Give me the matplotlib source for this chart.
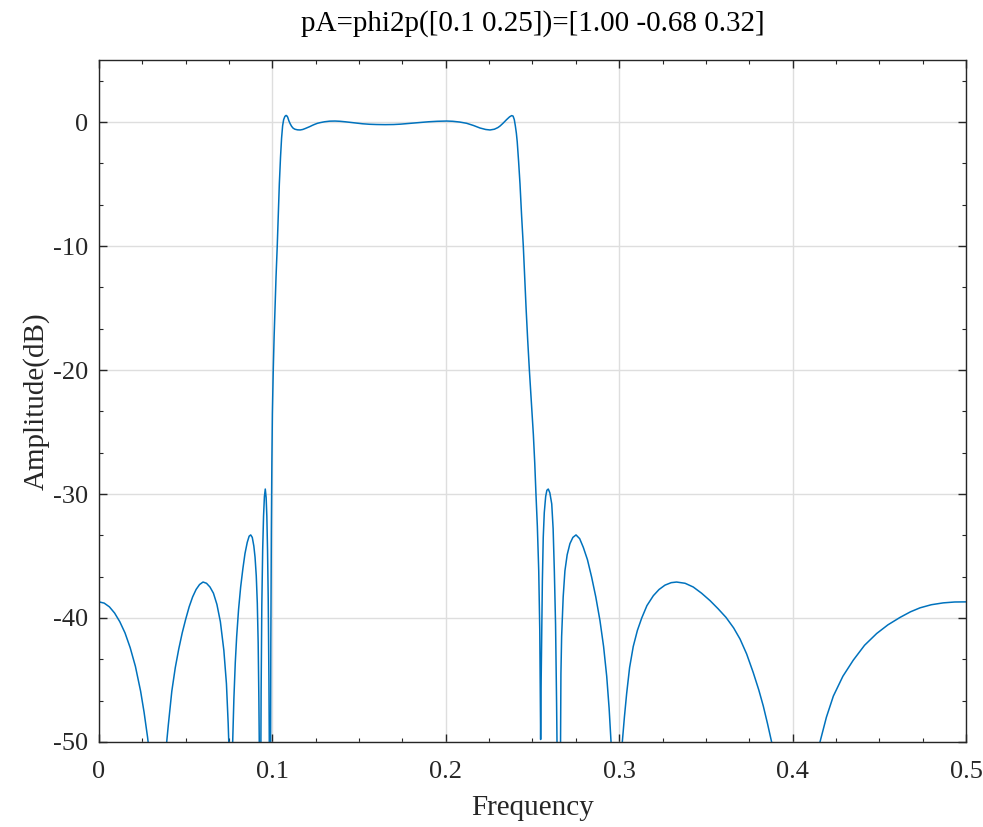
import numpy as np
import matplotlib
matplotlib.use("Agg")
import matplotlib.pyplot as plt
from matplotlib.ticker import MultipleLocator, FixedLocator

# Magnitude response of the bandpass design, sampled along the curve
# (frequency normalised to the sampling rate, amplitude in dB).
# Values below -50 dB mark the notches and fall outside the view.

# lower stopband: four lobes separated by notches
stop_lo_freq = [0.000, 0.003, 0.006, 0.009, 0.012, 0.015, 0.018, 0.021,
                0.024, 0.026, 0.028, 0.029, 0.034,
                0.0385, 0.040, 0.042, 0.044, 0.046, 0.048, 0.050, 0.052,
                0.054, 0.056, 0.058, 0.060, 0.062, 0.064, 0.066, 0.068,
                0.070, 0.072, 0.0735, 0.0745, 0.0752, 0.0757,
                0.0765, 0.0770, 0.0778, 0.0786, 0.0794, 0.0805, 0.0817, 0.0830,
                0.0842, 0.0855, 0.0866, 0.0875, 0.0884, 0.0893, 0.0900, 0.0907,
                0.0913, 0.0918, 0.0922, 0.0925, 0.0929,
                0.0932, 0.0935, 0.0939, 0.0944, 0.0949, 0.0954, 0.0959, 0.0964,
                0.0968, 0.0972, 0.0976, 0.0980, 0.0983, 0.0986]
stop_lo_db = [-38.7, -38.8, -39.1, -39.6, -40.3, -41.2, -42.4, -43.9,
              -45.9, -47.6, -49.6, -50.8, -75.0,
              -50.8, -48.6, -45.9, -44.0, -42.5, -41.2, -40.1, -39.1,
              -38.3, -37.7, -37.3, -37.1, -37.2, -37.5, -38.0, -38.9,
              -40.3, -42.6, -45.3, -48.5, -51.5, -70.0,
              -55.0, -50.5, -46.5, -43.6, -41.5, -39.3, -37.5, -36.0,
              -34.8, -33.9, -33.4, -33.3, -33.5, -34.2, -35.1, -36.6,
              -38.8, -42.0, -46.5, -51.0, -65.0,
              -55.0, -46.0, -39.0, -34.5, -31.8, -30.2, -29.6, -30.3,
              -31.8, -34.5, -38.5, -45.0, -52.0, -65.0]

# transition bands and passband
pass_freq = [0.0989, 0.0991, 0.0994, 0.0997, 0.1000, 0.1005, 0.1010, 0.1015,
             0.1021, 0.1028, 0.1034, 0.1040, 0.1047, 0.1053, 0.1059, 0.1065,
             0.1072, 0.1078, 0.1082, 0.1088, 0.1095, 0.1103, 0.1111, 0.1120,
             0.1130, 0.1145, 0.1160, 0.1175, 0.1190, 0.1205, 0.1217, 0.1230,
             0.1245, 0.1260, 0.1275, 0.1300, 0.1330, 0.1361, 0.1390, 0.1420,
             0.1450, 0.1486, 0.1520, 0.1560, 0.1600, 0.1650, 0.1700, 0.1740,
             0.1774, 0.1810, 0.1851, 0.1900, 0.1950, 0.2005, 0.2040, 0.2080,
             0.2120, 0.2160, 0.2197, 0.2230, 0.2255, 0.2280, 0.2300, 0.2313,
             0.2330, 0.2351, 0.2368, 0.2380, 0.2388, 0.2395, 0.2401, 0.2407,
             0.2412, 0.2420, 0.2428, 0.2437, 0.2447, 0.2455, 0.2463, 0.2472,
             0.2482, 0.2494, 0.2505, 0.2513, 0.2520, 0.2528, 0.2536, 0.2542,
             0.2547]
pass_db = [-55.0, -42.0, -33.0, -27.5, -23.5, -20.0, -17.3, -15.0,
           -12.5, -10.0, -7.5, -5.0, -2.8, -1.3, -0.3, 0.2,
           0.45, 0.53, 0.52, 0.4, 0.1, -0.15, -0.35, -0.5,
           -0.58, -0.63, -0.64, -0.6, -0.52, -0.43, -0.36, -0.27,
           -0.18, -0.1, -0.05, 0.02, 0.07, 0.08, 0.06, 0.02,
           -0.03, -0.09, -0.14, -0.18, -0.2, -0.21, -0.2, -0.17,
           -0.13, -0.09, -0.04, 0.02, 0.06, 0.08, 0.06, 0.0,
           -0.1, -0.28, -0.48, -0.6, -0.64, -0.58, -0.45, -0.32,
           -0.1, 0.2, 0.42, 0.52, 0.48, 0.2, -0.3, -0.9,
           -1.6, -3.2, -5.0, -7.5, -10.0, -12.5, -15.0, -17.5,
           -20.0, -22.7, -25.2, -27.5, -30.0, -32.6, -36.2, -41.0,
           -49.8]

# upper stopband: four lobes separated by notches
stop_hi_freq = [0.2550, 0.2553, 0.2557, 0.2562, 0.2568, 0.2576, 0.2583, 0.2591,
                0.2600, 0.2611, 0.2619, 0.2626, 0.2633, 0.2639, 0.2645, 0.2653,
                0.2661, 0.2664, 0.2668, 0.2677, 0.2687, 0.2700, 0.2716, 0.2733,
                0.2751, 0.2772, 0.2793, 0.2817, 0.2841, 0.2865, 0.2889, 0.2910,
                0.2928, 0.2942, 0.2955, 0.2985,
                0.3015, 0.3030, 0.3043, 0.3060, 0.3081, 0.3105, 0.3130, 0.3160,
                0.3197, 0.3230, 0.3264, 0.3300, 0.3331, 0.3380, 0.3427, 0.3475,
                0.3524, 0.3570, 0.3616, 0.3660, 0.3697, 0.3735, 0.3773, 0.3805,
                0.3831, 0.3855, 0.3879, 0.3895, 0.4020,
                0.4140, 0.4158, 0.4195, 0.4235, 0.4290, 0.4350, 0.4415, 0.4485,
                0.4550, 0.4620, 0.4680, 0.4735, 0.4800, 0.4869, 0.4935, 0.5000]
stop_hi_db = [-45.0, -41.5, -37.0, -33.5, -31.5, -30.2, -29.7, -29.6,
              -29.9, -30.8, -32.8, -36.2, -40.5, -46.9, -55.0, -65.0,
              -52.0, -44.5, -41.5, -38.3, -36.2, -34.9, -34.0, -33.5,
              -33.3, -33.6, -34.3, -35.3, -36.7, -38.3, -40.2, -42.3,
              -44.7, -47.3, -50.5, -70.0,
              -50.5, -48.0, -46.1, -44.0, -42.3, -41.0, -40.0, -39.0,
              -38.2, -37.7, -37.35, -37.15, -37.1, -37.2, -37.5, -38.0,
              -38.6, -39.25, -39.95, -40.8, -41.7, -42.9, -44.4, -45.8,
              -47.1, -48.5, -50.0, -51.0, -75.0,
              -51.0, -50.0, -48.0, -46.3, -44.7, -43.4, -42.2, -41.25,
              -40.55, -39.95, -39.5, -39.18, -38.93, -38.78, -38.71, -38.7]

x_ticks = [0, 0.1, 0.2, 0.3, 0.4, 0.5]
x_tick_labels = ["0", "0.1", "0.2", "0.3", "0.4", "0.5"]
y_ticks = [-50, -40, -30, -20, -10, 0]
y_tick_labels = ["-50", "-40", "-30", "-20", "-10", "0"]

title_text = "pA=phi2p([0.1 0.25])=[1.00 -0.68 0.32]"

freq = np.array(stop_lo_freq + pass_freq + stop_hi_freq)
amp_db = np.array(stop_lo_db + pass_db + stop_hi_db)

plt.rcParams["font.family"] = ["Liberation Serif", "DejaVu Serif"]

fig = plt.figure(figsize=(9.83, 8.27), dpi=100)
ax = fig.add_axes([0.1007, 0.1028, 0.8820, 0.8246])

ax.plot(freq, amp_db, color="#0072BD", lw=1.1, solid_joinstyle="round")

ax.set_xlim(0, 0.5)
ax.set_ylim(-50, 5)

ax.set_xticks(x_ticks)
ax.set_xticklabels(x_tick_labels)
ax.set_yticks(y_ticks)
ax.set_yticklabels(y_tick_labels)
ax.xaxis.set_minor_locator(MultipleLocator(0.025))
ax.yaxis.set_minor_locator(FixedLocator(list(np.arange(-50, 5.01, 10 / 3))))

ax.grid(True, which="major", color="#dedede", lw=1.0)
ax.set_axisbelow(True)

dark = "#262626"
for s in ax.spines.values():
    s.set_color(dark)
    s.set_linewidth(1.0)
ax.tick_params(which="both", direction="in", top=True, right=True,
               colors=dark, labelcolor=dark)
ax.tick_params(which="major", length=6, width=1.0, labelsize=19)
ax.tick_params(axis="x", which="major", pad=14)
ax.tick_params(axis="y", which="major", pad=8)
ax.tick_params(which="minor", length=3, width=0.8)

ax.set_xlabel("Frequency", fontsize=21, color=dark, labelpad=8)
ax.set_ylabel("Amplitude(dB)", fontsize=21, color=dark, labelpad=2)
ax.set_title(title_text, fontsize=21, color="black", pad=21)

fig.savefig("out.png", dpi=100)
